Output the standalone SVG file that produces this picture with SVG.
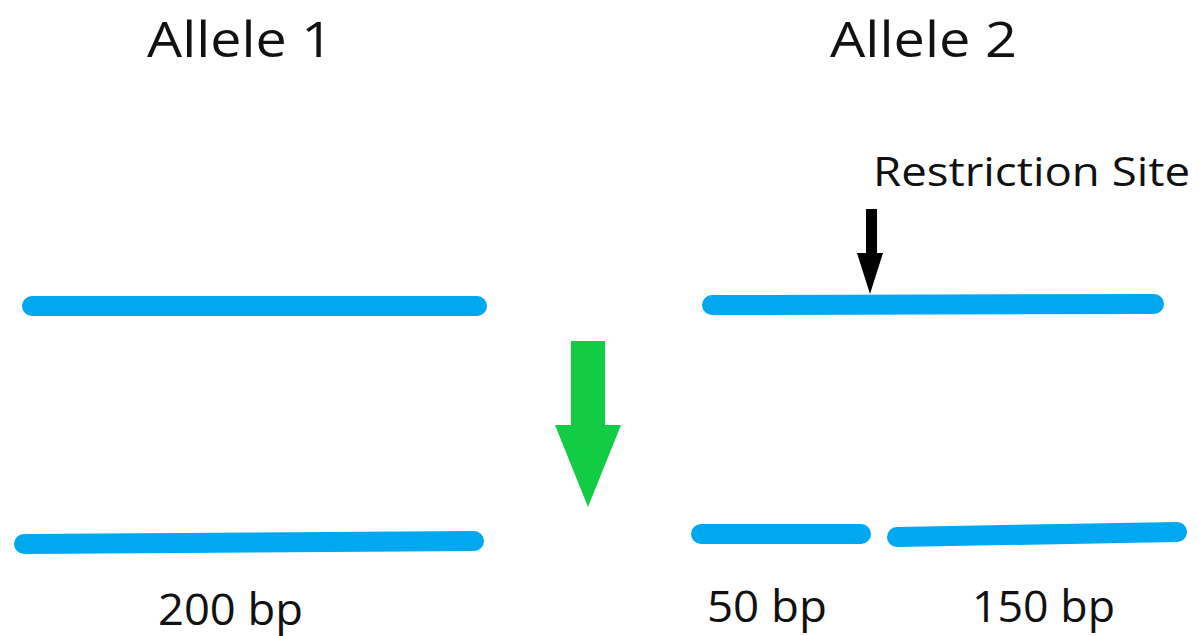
<svg xmlns="http://www.w3.org/2000/svg" width="1199" height="636" viewBox="0 0 1199 636">
<style>
.dna{stroke:#00A8F0;stroke-width:20;stroke-linecap:round;fill:none}
.t{font-family:"Open Sans","Noto Sans",sans-serif;fill:#111}
</style>
<rect width="1199" height="636" fill="#fff"/>
<g id="title-allele1"><text class="t" x="147" y="57" font-size="50" textLength="186" lengthAdjust="spacingAndGlyphs">Allele 1</text></g>
<g id="title-allele2"><text class="t" x="830" y="57" font-size="50" textLength="187" lengthAdjust="spacingAndGlyphs">Allele 2</text></g>
<g id="restriction-label"><text class="t" x="873" y="186" font-size="40" textLength="317" lengthAdjust="spacingAndGlyphs">Restriction Site</text></g>
<g id="allele1-uncut"><line class="dna" x1="32" y1="306" x2="477" y2="306"/></g>
<g id="allele2-uncut"><line class="dna" x1="712" y1="305" x2="1154" y2="304"/></g>
<g id="allele1-cut"><line class="dna" x1="24" y1="544" x2="474" y2="541"/></g>
<g id="allele2-frag50"><line class="dna" x1="701" y1="534" x2="861" y2="534"/></g>
<g id="allele2-frag150"><line class="dna" x1="897" y1="537" x2="1177" y2="532"/></g>
<g id="label-200"><text class="t" x="158" y="625" font-size="44" textLength="145" lengthAdjust="spacingAndGlyphs">200 bp</text></g>
<g id="label-50"><text class="t" x="707" y="622" font-size="44" textLength="120" lengthAdjust="spacingAndGlyphs">50 bp</text></g>
<g id="label-150"><text class="t" x="972" y="622" font-size="44" textLength="143" lengthAdjust="spacingAndGlyphs">150 bp</text></g>
<g id="connectors">
<polygon id="site-arrow" points="866,209 877,209 877,253 883,253 870,294 857,253 866,253" fill="#000"/>
<polygon id="digest-arrow" points="571,341 605,341 605,425 621,425 588,507 555,425 571,425" fill="#12CC44"/>
</g>
</svg>
